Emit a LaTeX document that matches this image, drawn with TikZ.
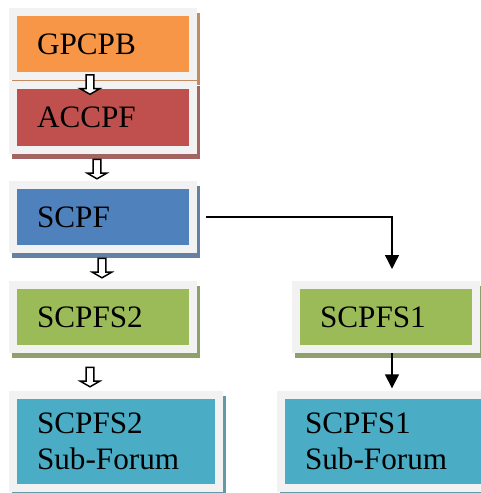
\documentclass[tikz,border=0pt]{standalone}
\usepackage{fontspec}
\setmainfont{Liberation Serif}
\newfontfamily\boxserif{Liberation Serif}
\usetikzlibrary{shapes.arrows, shadows, arrows.meta}

\definecolor{framegray}{HTML}{F2F2F2}
\definecolor{boxorange}{HTML}{F79646}
\definecolor{boxred}{HTML}{C0504D}
\definecolor{boxblue}{HTML}{4F81BD}
\definecolor{boxgreen}{HTML}{9BBB59}
\definecolor{boxcyan}{HTML}{4BACC6}
\newcommand{\boxfont}{\boxserif\fontsize{23.4}{27}\selectfont}

\tikzset{
  forum/.style={rectangle, fill=#1, draw=framegray, line width=6pt,
    minimum width=135pt, minimum height=48pt, inner xsep=18pt, inner ysep=0pt,
    text width=99pt, align=left, font=\boxfont,
    drop shadow={shadow xshift=2.25pt, shadow yshift=-3.75pt, opacity=1,
      fill=#1!55!gray, draw=#1!55!gray, line width=6pt}},
  subforum/.style={forum=#1, minimum width=154.5pt, text width=118.5pt, minimum height=69.75pt},
  hollow/.style={single arrow, draw=black, fill=white, line width=1.1pt, inner sep=2.4pt,
    shape border rotate=270, minimum height=14.5pt,
    single arrow head extend=4.3pt, single arrow tip angle=120},
  link/.style={line width=1pt, -{Triangle[width=10.5pt, length=10.5pt]}}
}

\begin{document}
\begin{tikzpicture}[x=0.75pt, y=-0.75pt]
    \useasboundingbox (0,0) rectangle (480,493);

    \node[forum=boxorange] (gpcpb) at (103,44) {GPCPB};
    \node[forum=boxred, minimum height=48.75pt] (accpf) at (103,117.5) {ACCPF};
    \node[forum=boxblue] (scpf) at (103,217) {SCPF};
    \node[forum=boxgreen] (scpfs2) at (103,317) {SCPFS2};
    \node[forum=boxgreen] (scpfs1) at (386,317) {SCPFS1};
    \node[subforum=boxcyan] (sub2) at (116,441.5) {SCPFS2\\Sub-Forum};
    \node[subforum=boxcyan] (sub1) at (384,441.5) {SCPFS1\\Sub-Forum};

    \node[hollow] (a1) at (90,83.5) {};
    \node[hollow] (a2) at (97,168) {};
    \node[hollow] (a3) at (102,267) {};
    \node[hollow] (a4) at (90,376) {};

    \draw[link, shorten <=6.75pt, shorten >=9pt] (scpf.east) -| ([xshift=4.5pt]scpfs1.north);
    \draw[link, shorten >=2pt] ([xshift=4.5pt]scpfs1.south) -- ([xshift=4.5pt]scpfs1.south |- sub1.north);
\end{tikzpicture}
\end{document}
